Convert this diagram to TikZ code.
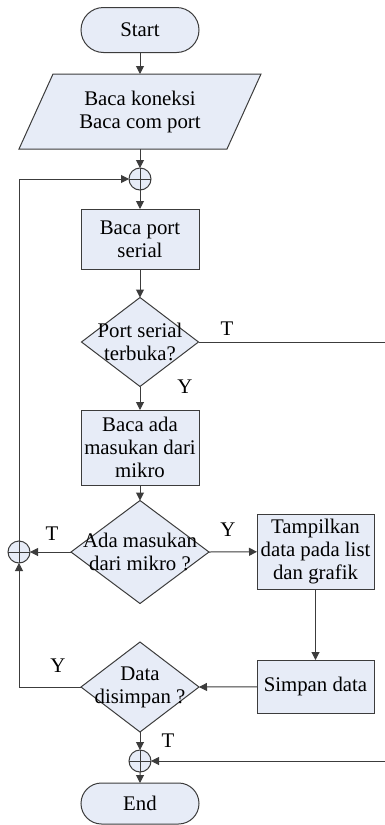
\documentclass[tikz,border=0pt]{standalone}
\usepackage{fontspec}
\setmainfont{Liberation Serif}
\usetikzlibrary{arrows.meta,shapes.geometric,shapes.misc}
\definecolor{boxfill}{RGB}{231,236,247}
\definecolor{linegray}{RGB}{60,60,60}
\begin{document}
\begin{tikzpicture}[x=1pt,y=-1pt,
  every node/.style={inner sep=0pt,outer sep=0pt,font=\fontsize{20.8}{23}\selectfont},
  base/.style={draw=linegray,line width=1pt,fill=boxfill},
  term/.style={base,rounded rectangle,minimum width=118,minimum height=45},
  io/.style={rectangle,minimum width=208,minimum height=75,align=center},
  proc/.style={base,rectangle,minimum width=118,align=center},
  dec/.style={base,diamond},
  dtext/.style={align=center},
  junc/.style={base,circle,minimum size=22,
    path picture={\draw[linegray,line width=1pt]
      (path picture bounding box.north) -- (path picture bounding box.south)
      (path picture bounding box.west) -- (path picture bounding box.east);}},
  lbl/.style={},
  arr/.style={draw=linegray,line width=1pt,-{Triangle[length=8pt,width=8pt]}},
  ln/.style={draw=linegray,line width=1pt}]
\useasboundingbox (0,0) rectangle (385,825);
% shapes
\node[term] (start) at (140,30) {Start};
\node[io] (conn) at (140,111.5) {};
\draw[base] ([xshift=17]conn.north west) -- ([xshift=17]conn.north east)
  -- ([xshift=-17]conn.south east) -- ([xshift=-17]conn.south west) -- cycle;
\node[dtext] (conntxt) at (conn) {Baca koneksi\\Baca com port};
\node[junc] (j1) at (140,179) {};
\node[proc,minimum height=60] (readport) at (140,239) {Baca port\\serial};
\node[dec,minimum width=117,minimum height=89] (isopen) at (140,342) {};
\node[dtext] (isopentxt) at (isopen) {Port serial\\terbuka?};
\node[proc,minimum height=75] (readmicro) at (140,447.5) {Baca ada\\masukan dari\\mikro};
\node[dec,minimum width=138,minimum height=103] (hasinput) at (140,552) {};
\node[dtext] (hasinputtxt) at (hasinput) {Ada masukan\\dari mikro ?};
\node[junc] (jleft) at (19,552) {};
\node[proc,minimum width=117,minimum height=75] (show) at (315.5,551.5) {Tampilkan\\data pada list\\dan grafik};
\node[proc,minimum width=117,minimum height=53] (save) at (315.5,686.5) {Simpan data};
\node[dec,minimum width=118,minimum height=90] (issaved) at (140,687) {};
\node[dtext] (issavedtxt) at (issaved) {Data\\disimpan ?};
\node[junc] (j2) at (140,761) {};
\node[term,minimum height=41] (end) at (140,803.5) {End};
\coordinate (outtop) at (385,342);
\coordinate (outbot) at (385,761);
% labels
\node[lbl] (l1) at (227,329) {T};
\node[lbl] (l2) at (185,387) {Y};
\node[lbl] (l3) at (52,534) {T};
\node[lbl] (l4) at (228,530) {Y};
\node[lbl] (l5) at (58,666) {Y};
\node[lbl] (l6) at (168,741) {T};
% connectors
\draw[arr] (start) -- (conn);
\draw[arr] (conn) -- (j1);
\draw[arr] (j1) -- (readport);
\draw[arr] (readport) -- (isopen);
\draw[arr] (isopen) -- (readmicro);
\draw[ln] (isopen.east) -- (outtop);
\draw[arr] (readmicro) -- (hasinput);
\draw[arr] (hasinput.west) -- (jleft);
\draw[arr] (hasinput.east) -- (show);
\draw[arr] (show) -- (save);
\draw[arr] (save) -- (issaved.east);
\draw[arr] (issaved.west) -| (jleft.south);
\draw[arr] (jleft.north) |- (j1.west);
\draw[arr] (issaved) -- (j2);
\draw[arr] (outbot) -- (j2);
\draw[arr] (j2) -- (end);
\end{tikzpicture}
\end{document}
